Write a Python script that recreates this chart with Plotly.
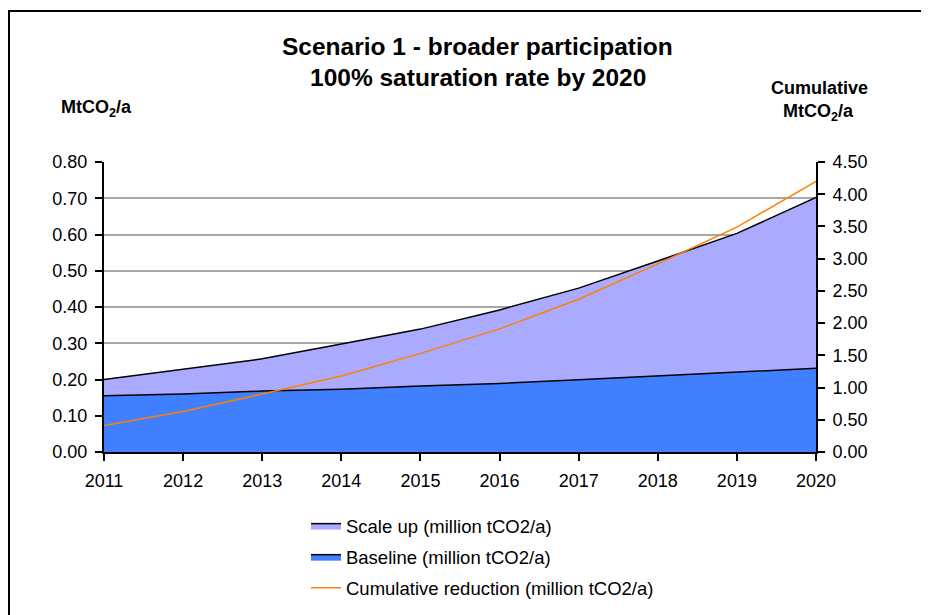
import plotly.graph_objects as go

years = [2011, 2012, 2013, 2014, 2015, 2016, 2017, 2018, 2019, 2020]
baseline = [0.155, 0.160, 0.168, 0.173, 0.182, 0.189, 0.199, 0.210, 0.219, 0.231]
scale_up = [0.045, 0.068, 0.089, 0.125, 0.157, 0.203, 0.253, 0.317, 0.384, 0.471]
cumulative = [0.41, 0.63, 0.90, 1.18, 1.53, 1.91, 2.37, 2.92, 3.49, 4.20]

FONT = "Liberation Sans, Arial, sans-serif"

fig = go.Figure()
fig.add_trace(go.Scatter(
    x=years, y=baseline, name="Baseline (million tCO2/a)",
    mode="lines", stackgroup="one", fillcolor="#4080FF",
    line=dict(color="black", width=1.5), legendrank=2, legendgroup="b",
    hoverinfo="skip"))
fig.add_trace(go.Scatter(
    x=years, y=scale_up, name="Scale up (million tCO2/a)",
    mode="lines", stackgroup="one", fillcolor="#AAAAFF",
    line=dict(color="black", width=1.5), legendrank=1, legendgroup="a",
    hoverinfo="skip"))
fig.add_trace(go.Scatter(
    x=years, y=cumulative, name="Cumulative reduction (million tCO2/a)",
    mode="lines", yaxis="y2", line=dict(color="#FF8000", width=1.5),
    legendrank=3, legendgroup="c", hoverinfo="skip"))

axis_common = dict(showline=True, linecolor="black", linewidth=2,
                   ticks="outside", ticklen=7, tickcolor="black", tickwidth=2,
                   zeroline=False, tickfont=dict(size=18))

fig.update_layout(
    width=929, height=615,
    margin=dict(l=96, r=121, t=154, b=171, autoexpand=False),
    paper_bgcolor="white", plot_bgcolor="white",
    font=dict(family=FONT, size=18, color="black"),
    showlegend=True,
    legend=dict(x=0.2837, y=-0.19, xanchor="left", yanchor="top",
                font=dict(size=18.5), tracegroupgap=4, bgcolor="rgba(0,0,0,0)"),
    xaxis=dict(range=[2011, 2020], tickmode="array", tickvals=years,
               ticktext=[str(y) for y in years], showgrid=False,
               ticklabelstandoff=4, **axis_common),
    yaxis=dict(range=[0, 0.8], dtick=0.1, tickformat=".2f",
               showgrid=True, gridcolor="#A8A8A8", gridwidth=1.5,
               ticklabelstandoff=4, **axis_common),
    yaxis2=dict(range=[0, 4.5], dtick=0.5, tickformat=".2f",
                overlaying="y", side="right", showgrid=False,
                ticklabelstandoff=4, **axis_common),
)

fig.add_annotation(text="<b>Scenario 1 - broader participation</b>",
                   xref="paper", yref="paper", x=0.525, y=1.40,
                   xanchor="center", yanchor="middle", showarrow=False,
                   font=dict(size=24.5))
fig.add_annotation(text="<b>100% saturation rate by 2020</b>",
                   xref="paper", yref="paper", x=0.525, y=1.29,
                   xanchor="center", yanchor="middle", showarrow=False,
                   font=dict(size=24.5))
fig.add_annotation(text="<b>MtCO<sub>2</sub>/a</b>",
                   xref="paper", yref="paper", x=-0.0105, y=1.186,
                   xanchor="center", yanchor="middle", showarrow=False,
                   font=dict(size=18))
fig.add_annotation(text="<b>Cumulative</b>",
                   xref="paper", yref="paper", x=1.0056, y=1.255,
                   xanchor="center", yanchor="middle", showarrow=False,
                   font=dict(size=18))
fig.add_annotation(text="<b>MtCO<sub>2</sub>/a</b>",
                   xref="paper", yref="paper", x=1.004, y=1.172,
                   xanchor="center", yanchor="middle", showarrow=False,
                   font=dict(size=18))

fig.add_shape(type="rect", xref="paper", yref="paper",
              x0=-0.1334, x1=1.3, y0=-0.7, y1=1.5207,
              line=dict(color="black", width=2), fillcolor="rgba(0,0,0,0)",
              layer="above")

fig.write_html("out.html")
